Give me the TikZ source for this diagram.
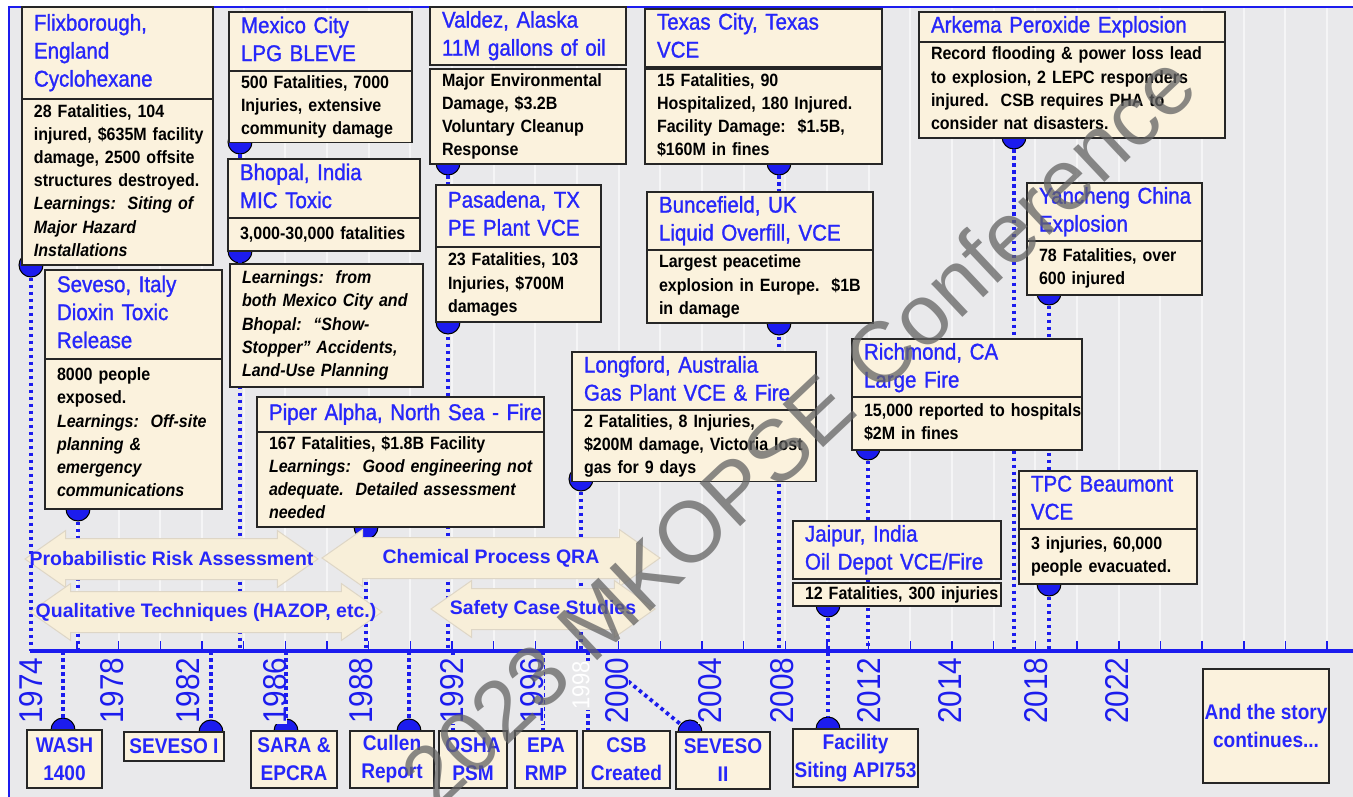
\documentclass[tikz,border=0pt]{standalone}
\usepackage{fontspec}
\setmainfont{Liberation Sans}
\newfontfamily\cnd[FakeStretch=0.9]{Liberation Sans}
\newfontfamily\cndttl[FakeStretch=0.9,FakeBold=1.2]{Liberation Sans}
\usetikzlibrary{positioning,shapes.arrows}

\definecolor{bgGray}{RGB}{233,233,235}
\definecolor{gridLn}{RGB}{245,245,246}
\definecolor{boxFill}{RGB}{251,242,221}
\definecolor{evBlue}{RGB}{38,38,250}
\definecolor{lnBlue}{RGB}{28,28,238}
\definecolor{arrFill}{RGB}{248,239,217}
\definecolor{arrLine}{RGB}{222,214,198}
\definecolor{wmGray}{RGB}{100,100,100}

\newcommand\ttlfont{\cndttl\fontsize{22.8}{28}\selectfont}
\newcommand\bdyfont{\cnd\bfseries\fontsize{17.8}{23.2}\selectfont}
\newcommand\btmfont{\cnd\bfseries\fontsize{21.2}{28}\selectfont}
\newcommand\yrfont{\cnd\fontsize{33}{33}\selectfont}
\newcommand\arrfont{\bfseries\fontsize{19.5}{22}\selectfont}
\newcommand\evrows[1]{\begin{tabular}[t]{@{}l@{}}#1\end{tabular}}

\pgfdeclarelayer{back}
\pgfdeclarelayer{stems}
\pgfsetlayers{back,stems,main}

\begin{document}
\begin{tikzpicture}[x=1pt,y=-1pt,
  evbox/.style 2 args={draw=black!85,line width=1.6pt,fill=boxFill,anchor=north west,
    outer sep=0pt,inner xsep=12pt,inner ysep=1pt,minimum width=#1pt,
    text width=#1pt-24pt,minimum height=#2pt,align=left},
  ttl/.style 2 args={evbox={#1}{#2},font=\ttlfont,text=evBlue},
  bdy/.style 2 args={evbox={#1}{#2},font=\bdyfont},
  btm/.style 2 args={draw=black!85,line width=1.6pt,fill=boxFill,anchor=north west,
    outer sep=0pt,inner sep=1pt,minimum width=#1pt,minimum height=#2pt,
    align=center,font=\btmfont,text=evBlue},
  dot/.style={circle,draw=black,line width=1pt,fill=lnBlue,inner sep=0pt,minimum size=24pt},
  stem/.style={lnBlue,line width=3.8pt,dash pattern=on 3.5pt off 3.5pt},
  yr/.style={rotate=90,anchor=west,font=\yrfont,text=lnBlue,fill=bgGray,inner sep=0pt},
  era/.style={double arrow,draw=arrLine,line width=1pt,fill=arrFill,inner xsep=0pt,
    inner ysep=20pt,double arrow head extend=8pt,double arrow tip angle=70,minimum height=#1pt},
  lbl/.style={font=\arrfont,text=evBlue}]
  \useasboundingbox (0,0) rectangle (1353,797);

  % background and grid
  \begin{pgfonlayer}{back}
    \fill[white] (0,0) rectangle (1353,797);
    \fill[bgGray] (9,7) rectangle (1353,797);
    \foreach \k in {0,...,30}
      \draw[gridLn,line width=2pt] (77+41.67*\k,7) -- (77+41.67*\k,651);
  \end{pgfonlayer}
  \draw[lnBlue,line width=2.5pt] (9,797) -- (9,7) -- (1353,7);

  % time axis
  \coordinate (ax) at (30,651);
  \draw[lnBlue,line width=4pt] (ax) -- (1353,651);
  \foreach \k in {0,...,30}
    \draw[lnBlue,line width=1.5pt] (77+41.67*\k,651) -- ++(0,-10);

  % incidents
  \node[ttl={191}{92}] (flixT) at (22,7) {\evrows{Flixborough,\\England\\Cyclohexane}};
  \node[bdy={191}{166},below=0pt of flixT] (flixB) {\evrows{28 Fatalities, 104\\injured, \$635M facility\\damage, 2500 offsite\\structures destroyed.\\\textit{Learnings:\ \ Siting of}\\\textit{Major Hazard}\\\textit{Installations}}};

  \node[ttl={177}{89}] (sevT) at (45,270) {\evrows{Seveso, Italy\\Dioxin Toxic\\Release}};
  \node[bdy={177}{150},below=0pt of sevT] (sevB) {\evrows{8000 people\\exposed.\\\textit{Learnings:\ \ Off-site}\\\textit{planning \&}\\\textit{emergency}\\\textit{communications}}};

  \node[ttl={183}{59}] (mexT) at (229,12) {\evrows{Mexico City\\LPG BLEVE}};
  \node[bdy={183}{71},below=0pt of mexT] (mexB) {\evrows{500 Fatalities, 7000\\Injuries, extensive\\community damage}};

  \node[ttl={192}{59}] (bhoT) at (228,159) {\evrows{Bhopal, India\\MIC Toxic}};
  \node[bdy={192}{33},below=0pt of bhoT] (bhoB) {\evrows{3,000-30,000 fatalities}};
  \node[bdy={193}{123}] (lrnB) at (230,264) {\evrows{\textit{Learnings:\ \ from}\\\textit{both Mexico City and}\\\textit{Bhopal:\ \ “Show-}\\\textit{Stopper” Accidents,}\\\textit{Land-Use Planning}}};

  \node[ttl={196}{57}] (valT) at (430,7) {\evrows{Valdez, Alaska\\11M gallons of oil}};
  \node[bdy={196}{95},below=4pt of valT] (valB) {\evrows{Major Environmental\\Damage, \$3.2B\\Voluntary Cleanup\\Response}};

  \node[ttl={165}{62}] (pasT) at (436,185) {\evrows{Pasadena, TX\\PE Plant VCE}};
  \node[bdy={165}{75},below=0pt of pasT] (pasB) {\evrows{23 Fatalities, 103\\Injuries, \$700M\\damages}};

  \node[ttl={287}{35}] (pipT) at (257,397) {\evrows{Piper Alpha, North Sea - Fire}};
  \node[bdy={287}{95},below=0pt of pipT] (pipB) {\evrows{167 Fatalities, \$1.8B Facility\\\textit{Learnings:\ \ Good engineering not}\\\textit{adequate.\ \ Detailed assessment}\\\textit{needed}}};

  \node[ttl={237}{58}] (texT) at (645,9) {\evrows{Texas City, Texas\\VCE}};
  \node[bdy={237}{94},below=2pt of texT] (texB) {\evrows{15 Fatalities, 90\\Hospitalized, 180 Injured.\\Facility Damage:\ \ \$1.5B,\\\$160M in fines}};

  \node[ttl={226}{58}] (bunT) at (647,192) {\evrows{Buncefield, UK\\Liquid Overfill, VCE}};
  \node[bdy={226}{73},below=0pt of bunT] (bunB) {\evrows{Largest peacetime\\explosion in Europe.\ \ \$1B\\in damage}};

  \node[ttl={244}{57}] (lonT) at (572,352) {\evrows{Longford, Australia\\Gas Plant VCE \& Fire}};
  \node[bdy={244}{70},below=0pt of lonT] (lonB) {\evrows{2 Fatalities, 8 Injuries,\\\$200M damage, Victoria lost\\gas for 9 days}};

  \node[ttl={230}{56}] (ricT) at (852,339) {\evrows{Richmond, CA\\Large Fire}};
  \node[bdy={230}{53},below=0pt of ricT] (ricB) {\evrows{15,000 reported to hospitals\\\$2M in fines}};

  \node[ttl={208}{58}] (jaiT) at (793,521) {\evrows{Jaipur, India\\Oil Depot VCE/Fire}};
  \node[bdy={208}{22},inner ysep=0pt,below=4pt of jaiT] (jaiB) {\evrows{12 Fatalities, 300 injuries}};

  \node[ttl={306}{29}] (arkT) at (919,12) {\evrows{Arkema Peroxide Explosion}};
  \node[bdy={306}{96},below=0pt of arkT] (arkB) {\evrows{Record flooding \& power loss lead\\to explosion, 2 LEPC responders\\injured.\ \ CSB requires PHA to\\consider nat disasters.}};

  \node[ttl={175}{56}] (yanT) at (1027,183) {\evrows{Yancheng China\\Explosion}};
  \node[bdy={175}{54},below=0pt of yanT] (yanB) {\evrows{78 Fatalities, over\\600 injured}};

  \node[ttl={178}{58}] (tpcT) at (1019,471) {\evrows{TPC Beaumont\\VCE}};
  \node[bdy={178}{55},below=0pt of tpcT] (tpcB) {\evrows{3 injuries, 60,000\\people evacuated.}};

  % regulations and studies
  \node[btm={75}{58}] (wash) at (27,730) {WASH\\1400};
  \node[btm={100}{29}] (sev1) at (124,732) {SEVESO I};
  \node[btm={86}{57}] (sara) at (251,731) {SARA \&\\EPCRA};
  \node[btm={84}{57}] (cull) at (350,731) {Cullen\\Report};
  \node[btm={68}{57}] (osha) at (439,731) {OSHA\\PSM};
  \node[btm={62}{57}] (epa) at (515,731) {EPA\\RMP};
  \node[btm={87}{57}] (csb) at (583,731) {CSB\\Created};
  \node[btm={94}{57}] (sev2) at (676,732) {SEVESO\\II};
  \node[btm={125}{58}] (fac) at (793,729) {Facility\\Siting API753};
  \node[btm={126}{114}] (story) at (1203,669) {And the story\\continues...};

  % methods
  \node[era=293,label={[lbl]center:Probabilistic Risk Assessment}] (pra) at (171.5,559) {};
  \node[era=338,label={[lbl]center:Chemical Process QRA}] (cpqra) at (491,558) {};
  \node[era=352,label={[lbl]center:Qualitative Techniques (HAZOP, etc.)}] (qual) at (206,612) {};
  \node[era=224,label={[lbl]center:Safety Case Studies}] (scs) at (543,609) {};

  % years
  \foreach \yx/\yl in {31/1974,112/1978,188/1982,275/1986,361/1988,452/1992,532/1996,
      617/2000,710/2004,782/2008,869/2012,950/2014,1036/2018,1117/2022}
    \node[yr] (y\yl) at (\yx,724) {\yl};
  \node[yr,text=white,font=\cnd\fontsize{24.5}{24.5}\selectfont] (y1998) at (581,710) {1998};

  % markers and stems
  \begin{pgfonlayer}{stems}
    \coordinate (oshaS) at (453,651);
    \coordinate (epaS) at (543,651);
    \coordinate (csbS) at (588,651);
    \coordinate (sev2S) at (612,668);
    \draw[stem] (oshaS) -- (oshaS |- osha.north);
    \draw[stem] (epaS) -- (epaS |- epa.north);
    \draw[stem] (csbS) -- (csbS |- csb.north);
    \node[dot] (flixD) at (31,265) {};
    \node[dot] (sevD) at (78,509) {};
    \node[dot] (mexD) at (240,142) {};
    \node[dot] (bhoD) at (240,251) {};
    \node[dot] (valD) at (448,163) {};
    \node[dot] (pasD) at (448,322) {};
    \node[dot] (pipD) at (366,527) {};
    \node[dot] (texD) at (779,163) {};
    \node[dot] (bunD) at (779,323) {};
    \node[dot] (lonD) at (581,479) {};
    \node[dot] (ricD) at (868,448) {};
    \node[dot] (jaiD) at (828,605) {};
    \node[dot] (arkD) at (1014,137) {};
    \node[dot] (yanD) at (1049,293) {};
    \node[dot] (tpcD) at (1049,584) {};
    \node[dot] (washD) at (63,730) {};
    \node[dot] (sev1D) at (211,732) {};
    \node[dot] (saraD) at (286,731) {};
    \node[dot] (cullD) at (409,731) {};
    \node[dot] (sev2D) at (690,732) {};
    \node[dot] (facD) at (828,729) {};
    \foreach \d in {flixD,sevD,mexD,valD,pipD,texD,lonD,ricD,arkD,tpcD}
      \draw[stem] (\d) -- (\d |- ax);
    \draw[stem] (yanD) -- (tpcD);
    \draw[stem] (jaiD) -- (facD);
    \foreach \d in {washD,sev1D,cullD}
      \draw[stem] (\d |- ax) -- (\d);
    \draw[stem] (sev2S) -- (sev2D);
  \end{pgfonlayer}
  \draw[stem] (saraD |- ax) -- (saraD.north);

  % watermark
  \node[rotate=43.3,text=wmGray,text opacity=0.75,font=\fontsize{86}{86}\selectfont] (wm) at (798,430) {2023 MKOPSE Conference};
\end{tikzpicture}
\end{document}
